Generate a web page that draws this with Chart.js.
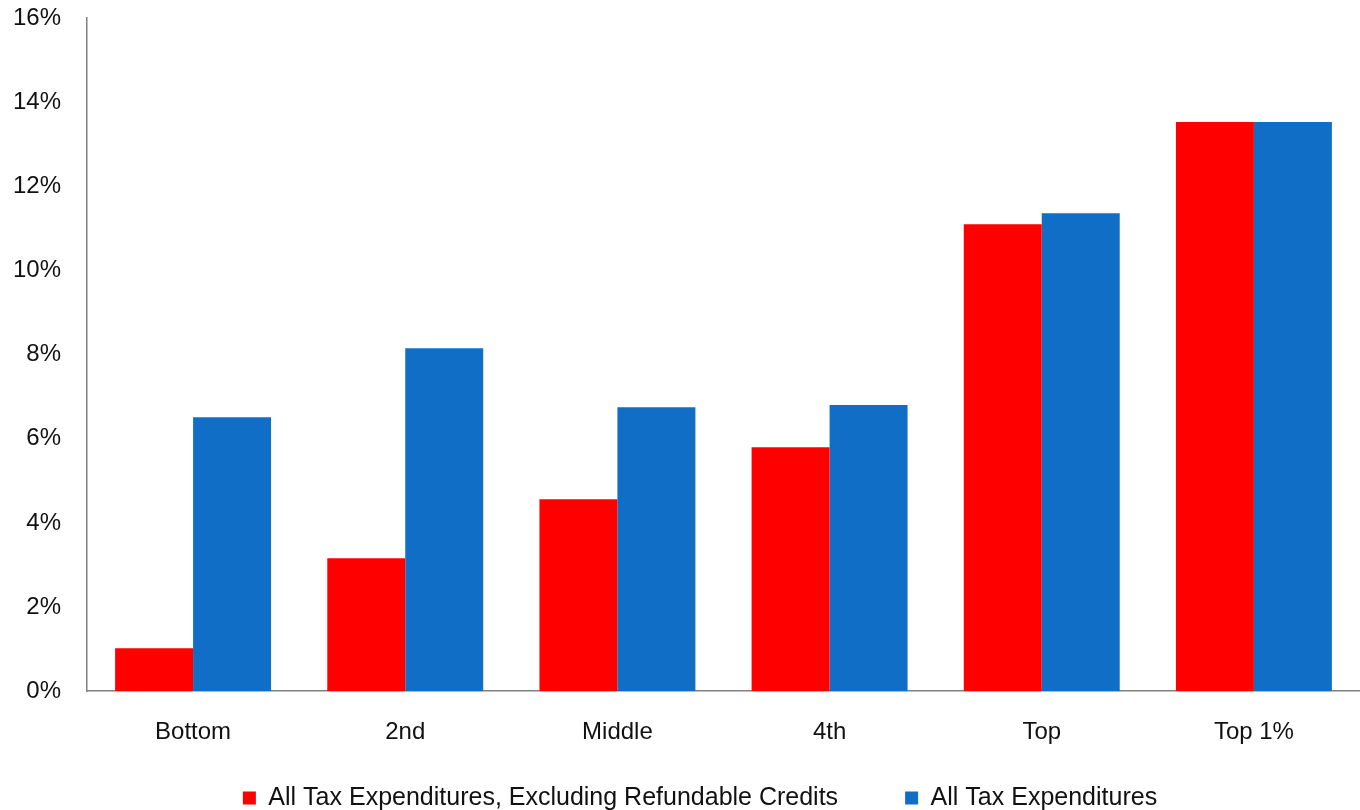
<!DOCTYPE html>
<html>
<head>
<meta charset="utf-8">
<script src="https://cdn.jsdelivr.net/npm/chart.js@4/dist/chart.umd.min.js"></script>
<style>
  html, body { margin: 0; padding: 0; background: #fff; }
  #wrap { width: 1360px; height: 810px; position: relative; }
</style>
</head>
<body>
<div id="wrap"><canvas id="taxChart"></canvas></div>
<script>
const categories = ['Bottom', '2nd', 'Middle', '4th', 'Top', 'Top 1%'];
const exclRefundable = [1.02, 3.16, 4.56, 5.80, 11.10, 13.53];
const allTaxExp = [6.51, 8.15, 6.75, 6.80, 11.36, 13.53];
const seriesNames = ['All Tax Expenditures, Excluding Refundable Credits', 'All Tax Expenditures'];
const yTicks = [0, 2, 4, 6, 8, 10, 12, 14, 16];

const tickFont = { family: "'Liberation Sans', Arial, sans-serif", size: 24 };
const legendGap = 67;

// keep the legend row low and compact while leaving a wide gap between items
const legendPlacer = {
    id: 'legendPlacer',
    afterInit(chart) {
        const legend = chart.legend;
        const origFit = legend.fit.bind(legend);
        legend.fit = function() {
            origFit();
            this.height = 36;
        };
    },
    afterLayout(chart) {
        const legend = chart.legend;
        const textCenter = 798;
        const newTop = textCenter - 12.5 - legendGap;
        const dy = newTop - legend.top;
        legend.top += dy;
        legend.bottom = chart.height;
        legend.left += 20;
        legend.right += 20;
        legend.legendHitBoxes.forEach(b => { b.top += dy; b.left += 20; });
    }
};

new Chart(document.getElementById('taxChart'), {
    type: 'bar',
    data: {
        labels: categories,
        datasets: [{
            label: seriesNames[0],
            data: exclRefundable,
            backgroundColor: '#ff0000'
        }, {
            label: seriesNames[1],
            data: allTaxExp,
            backgroundColor: '#106ec6'
        }]
    },
    plugins: [legendPlacer],
    options: {
        responsive: true,
        maintainAspectRatio: false,
        animation: false,
        datasets: { bar: { categoryPercentage: 0.735, barPercentage: 1.0 } },
        layout: { padding: 0 },
        plugins: {
            tooltip: { enabled: false },
            legend: {
                position: 'bottom',
                labels: {
                    font: { family: "'Liberation Sans Narrow', 'Liberation Sans', sans-serif", size: 25 },
                    color: '#111',
                    boxWidth: 13,
                    boxHeight: 13,
                    padding: legendGap
                }
            }
        },
        scales: {
            x: {
                grid: { display: false, drawTicks: false },
                border: { color: '#808080', width: 1.5 },
                ticks: { font: tickFont, color: '#111', padding: 27 }
            },
            y: {
                min: 0,
                max: 16,
                grid: { display: false, drawTicks: false },
                border: { color: '#808080', width: 1.5 },
                afterBuildTicks: axis => { axis.ticks = yTicks.map(v => ({ value: v })); },
                afterFit: axis => {
                    axis.width = 87;
                    axis.paddingTop = 18;
                },
                ticks: {
                    font: tickFont,
                    color: '#111',
                    padding: 26,
                    callback: v => v + '%'
                }
            }
        }
    }
});
</script>
</body>
</html>
